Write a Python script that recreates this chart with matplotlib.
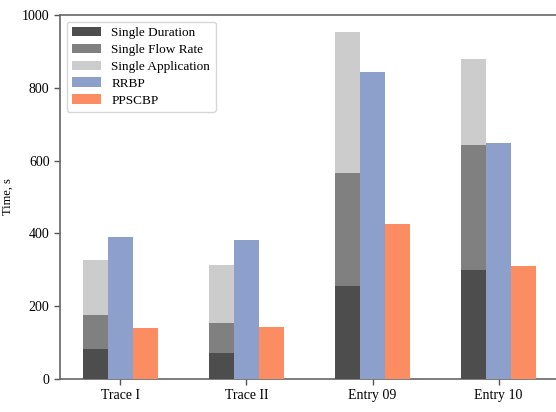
import matplotlib.pyplot as plt
import numpy as np

plt.rcParams["font.family"] = ["Liberation Serif", "DejaVu Serif"]

traces = ["Trace I", "Trace II", "Entry 09", "Entry 10"]
single_duration = [82, 71, 255, 299]
single_flow_rate = [176, 154, 566, 643]
single_application = [327, 313, 953, 879]
rrbp = [390, 381, 843, 648]
ppscbp = [140, 143, 426, 310]

x = np.arange(len(traces))
w = 0.2

fig = plt.figure(figsize=(5.56, 4.12), dpi=100)
ax = fig.add_axes([60 / 556, 33 / 412, 499 / 556, 364 / 412])

# single-parameter times overlap in one bar, tallest drawn first
ax.bar(x - w, single_application, w, color="#cccccc", label="Single Application", zorder=1)
ax.bar(x - w, single_flow_rate, w, color="#808080", label="Single Flow Rate", zorder=2)
ax.bar(x - w, single_duration, w, color="#4d4d4d", label="Single Duration", zorder=3)
ax.bar(x, rrbp, w, color="#8da0cb", label="RRBP", zorder=3)
ax.bar(x + w, ppscbp, w, color="#fc8d62", label="PPSCBP", zorder=3)

ax.set_xlim(-0.48, 3.48)
ax.set_ylim(0, 1000)
ax.set_xticks(x)
ax.set_xticklabels(traces, fontsize=10)
ax.set_yticks([0, 200, 400, 600, 800, 1000])
ax.tick_params(axis="y", labelsize=10)
ax.tick_params(length=4, width=1, color="#555555")
ax.set_xlabel("Traces", fontsize=9, labelpad=6)
ax.set_ylabel("Time, s", fontsize=9, labelpad=6)
for s in ax.spines.values():
    s.set_color("#666666")
    s.set_linewidth(1.2)

handles, labels = ax.get_legend_handles_labels()
order = [2, 1, 0, 3, 4]
ax.legend([handles[i] for i in order], [labels[i] for i in order],
          loc="upper left", fontsize=9.5, frameon=True, edgecolor="#cccccc",
          labelspacing=0.35, handlelength=2.2, borderaxespad=0.5)

fig.savefig("out.png", dpi=100)
